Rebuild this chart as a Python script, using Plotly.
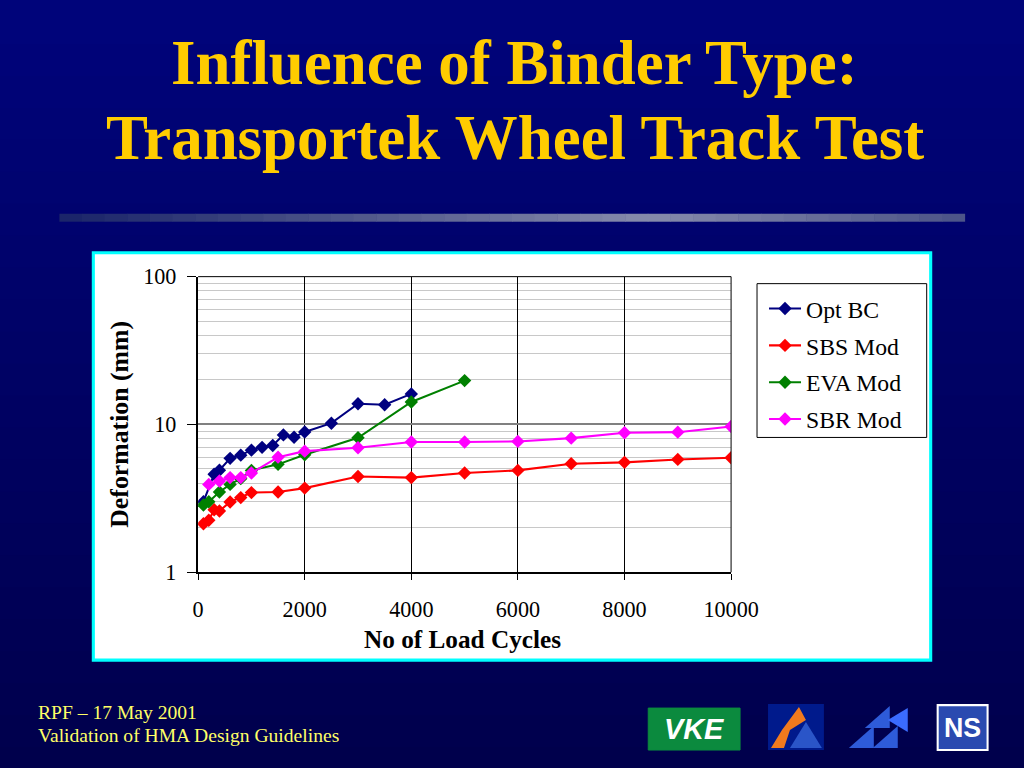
import plotly.graph_objects as go

# ---------------- data ----------------
opt_x = [100, 300, 400, 600, 800, 1000, 1200, 1400, 1600, 1800, 2000, 2500, 3000, 3500, 4000]
opt_y = [3.0, 4.6, 4.9, 5.9, 6.2, 6.7, 7.0, 7.2, 8.5, 8.2, 8.9, 10.2, 13.8, 13.6, 16.1]

sbs_x = [100, 200, 300, 400, 600, 800, 1000, 1500, 2000, 3000, 4000, 5000, 6000, 7000, 8000, 9000, 10000]
sbs_y = [2.13, 2.25, 2.65, 2.6, 2.99, 3.2, 3.46, 3.49, 3.71, 4.45, 4.37, 4.69, 4.89, 5.43, 5.54, 5.8, 5.96]

eva_x = [100, 200, 400, 600, 800, 1000, 1500, 2000, 3000, 4000, 5000]
eva_y = [2.85, 3.0, 3.49, 3.93, 4.3, 4.89, 5.37, 6.24, 8.13, 14.2, 19.8]

sbr_x = [200, 400, 600, 800, 1000, 1500, 2000, 3000, 4000, 5000, 6000, 7000, 8000, 9000, 10000]
sbr_y = [3.93, 4.14, 4.37, 4.37, 4.69, 6.01, 6.6, 6.96, 7.6, 7.6, 7.68, 8.08, 8.79, 8.87, 9.69]

series_names = ["Opt BC", "SBS Mod", "EVA Mod", "SBR Mod"]
series_colors = ["#000080", "#FF0000", "#008000", "#FF00FF"]

x_ticks = [0, 2000, 4000, 6000, 8000, 10000]
x_ticktext = ["0", "2000", "4000", "6000", "8000", "10000"]
y_ticks = [1, 10, 100]
y_ticktext = ["1", "10", "100"]
y_minor = [2, 3, 4, 5, 6, 7, 8, 9, 20, 30, 40, 50, 60, 70, 80, 90]

title_lines = ["Influence of Binder Type:", "Transportek Wheel Track Test"]
footer_lines = ["RPF \u2013 17 May 2001", "Validation of HMA Design Guidelines"]

# ---------------- figure ----------------
S = 1056 / 1024          # size factor of the figure versus the 1024x768 design grid
W, H = 1056, 792
DX, DY = -4.5, -11       # placement correction on the design grid
SERIF = "Liberation Serif, Times New Roman, serif"

def px(x):
    return (x + DX) / 1024

def py(y):
    return 1 - (y + DY) / 768

def sz(v):
    return v * S

fig = go.Figure()
for xs, ys, name, col in zip([opt_x, sbs_x, eva_x, sbr_x], [opt_y, sbs_y, eva_y, sbr_y],
                             series_names, series_colors):
    fig.add_trace(go.Scatter(
        x=xs, y=ys, name=name, mode="lines+markers", legendgroup=name,
        line=dict(color=col, width=sz(2)),
        marker=dict(symbol="diamond", size=sz(10), color=col),
    ))

shapes = []
n = 24
for i in range(n):
    t = i / (n - 1)
    b = int(122 - (122 - 76) * t)
    g2 = int(4 - 4 * t)
    shapes.append(dict(type="rect", xref="paper", yref="paper", layer="below",
                       x0=-0.02, x1=1.02, y0=1 - (i + 1) / n - 0.001 - 0.03 * (i == n - 1),
                       y1=1 - i / n + 0.03 * (i == 0),
                       line=dict(width=0), fillcolor=f"rgb(0,{g2},{b})"))
bx0, bx1 = 58, 965
nb = 40
for i in range(nb):
    t = (i + 0.5) / nb
    k = 1 - abs(t - 0.65) / 0.65
    k = max(0.0, min(1.0, k))
    cr = int(25 + (135 - 25) * k)
    cg = int(35 + (140 - 35) * k)
    cb = int(105 + (172 - 105) * k)
    xa = bx0 + (bx1 - bx0) * i / nb
    xb = bx0 + (bx1 - bx0) * (i + 1) / nb
    shapes.append(dict(type="rect", xref="paper", yref="paper", layer="below",
                       x0=px(xa), x1=px(xb + 0.5), y0=py(221), y1=py(213),
                       line=dict(width=0), fillcolor=f"rgb({cr},{cg},{cb})"))
shapes.append(dict(type="rect", xref="paper", yref="paper", layer="below",
                   x0=px(92), x1=px(931), y0=py(660), y1=py(252),
                   line=dict(color="#00FFFF", width=sz(3)), fillcolor="white"))
shapes.append(dict(type="rect", xref="paper", yref="paper", layer="above",
                   x0=px(757), x1=px(927), y0=py(437), y1=py(283),
                   line=dict(color="black", width=1), fillcolor="rgba(0,0,0,0)"))

# logos (approximate)
shapes.append(dict(type="rect", xref="paper", yref="paper",
                   x0=px(648), x1=px(740), y0=py(750), y1=py(708),
                   line=dict(color="#0B8A3E", width=1), fillcolor="#0B8A3E"))
shapes.append(dict(type="rect", xref="paper", yref="paper",
                   x0=px(768), x1=px(824), y0=py(750), y1=py(704),
                   line=dict(width=0), fillcolor="#001A8C"))
shapes.append(dict(type="path", xref="paper", yref="paper",
                   path=f"M {px(771)},{py(748)} L {px(784)},{py(748)} L {px(790)},{py(730)} L {px(806)},{py(720)} L {px(799)},{py(707)} L {px(782)},{py(730)} Z",
                   line=dict(width=0), fillcolor="#F07A1E"))
shapes.append(dict(type="path", xref="paper", yref="paper",
                   path=f"M {px(790)},{py(748)} L {px(822)},{py(748)} L {px(806)},{py(722)} Z",
                   line=dict(width=0), fillcolor="#2A55C8"))
for (cx, cy) in [(880, 718), (864, 738), (888, 738)]:
    shapes.append(dict(type="path", xref="paper", yref="paper",
                       path=f"M {px(cx-15)},{py(cy+10)} L {px(cx+10)},{py(cy+10)} L {px(cx+10)},{py(cy-12)} Z",
                       line=dict(width=0), fillcolor="#2E5BD9"))
shapes.append(dict(type="path", xref="paper", yref="paper",
                   path=f"M {px(908)},{py(708)} L {px(908)},{py(732)} L {px(888)},{py(720)} Z",
                   line=dict(width=0), fillcolor="#3A6BFF"))
shapes.append(dict(type="rect", xref="paper", yref="paper",
                   x0=px(938), x1=px(988), y0=py(750), y1=py(705),
                   line=dict(color="white", width=sz(2)), fillcolor="#2A4AB0"))

annotations = []
for line, yc in zip(title_lines, [62, 137]):
    annotations.append(dict(text=f"<b>{line}</b>", x=px(514), y=py(yc),
                            xref="paper", yref="paper", showarrow=False,
                            xanchor="center", yanchor="middle",
                            font=dict(family=SERIF, size=sz(61), color="#FFCC00")))
for i, line in enumerate(footer_lines):
    annotations.append(dict(text=line, x=px(35), y=py(712 + 23 * i),
                            xref="paper", yref="paper", showarrow=False,
                            xanchor="left", yanchor="middle",
                            font=dict(family=SERIF, size=sz(19), color="#FFFF66")))
annotations.append(dict(text="<b><i>VKE</i></b>", x=px(694), y=py(729), xref="paper", yref="paper",
                        showarrow=False, xanchor="center", yanchor="middle",
                        font=dict(family="Liberation Sans, Arial", size=sz(28), color="white")))
annotations.append(dict(text="<b>NS</b>", x=px(963), y=py(728), xref="paper", yref="paper",
                        showarrow=False, xanchor="center", yanchor="middle",
                        font=dict(family="Liberation Sans, Arial", size=sz(26), color="white")))
annotations.append(dict(text="<b>No of Load Cycles</b>", x=px(462), y=py(639), xref="paper", yref="paper",
                        showarrow=False, xanchor="center", yanchor="middle",
                        font=dict(family=SERIF, size=sz(24.5), color="black")))
annotations.append(dict(text="<b>Deformation (mm)</b>", x=px(118), y=py(424), xref="paper", yref="paper",
                        showarrow=False, xanchor="center", yanchor="middle", textangle=-90,
                        font=dict(family=SERIF, size=sz(25), color="black")))

fig.update_layout(
    width=W, height=H,
    margin=dict(l=0, r=0, t=0, b=0),
    paper_bgcolor="#000066",
    plot_bgcolor="white",
    showlegend=True,
    legend=dict(x=px(764), y=py(286), xanchor="left", yanchor="top",
                bgcolor="rgba(0,0,0,0)", borderwidth=0,
                font=dict(family=SERIF, size=sz(23), color="black"),
                tracegroupgap=round(sz(3)), itemwidth=32),
    shapes=shapes,
    annotations=annotations,
    xaxis=dict(domain=[px(197), px(731)], range=[0, 10000], tickvals=x_ticks, ticktext=x_ticktext,
               showgrid=True, gridcolor="black", gridwidth=1, zeroline=False,
               showline=True, linecolor="black", linewidth=sz(2),
               ticks="outside", ticklen=sz(6), tickcolor="black", ticklabelstandoff=round(sz(10)),
               tickfont=dict(family=SERIF, size=sz(21.5), color="black"),
               mirror=False, anchor="y"),
    yaxis=dict(domain=[py(572), py(276)], type="log", range=[0, 2], tickvals=y_ticks,
               ticktext=y_ticktext,
               showgrid=True, gridcolor="#808080", gridwidth=sz(2), zeroline=False,
               showline=True, linecolor="black", linewidth=sz(2),
               ticks="outside", ticklen=sz(9), tickcolor="black", ticklabelstandoff=round(sz(6)),
               tickfont=dict(family=SERIF, size=sz(21.5), color="black"),
               minor=dict(tickvals=y_minor, showgrid=True, gridcolor="#C8C8C8", gridwidth=1, ticks=""),
               anchor="x"),
)
fig.add_shape(type="line", xref="paper", yref="paper", x0=px(731), x1=px(731), y0=py(572), y1=py(276),
              line=dict(color="black", width=1))
fig.add_shape(type="line", xref="paper", yref="paper", x0=px(197), x1=px(731), y0=py(276), y1=py(276),
              line=dict(color="black", width=1))

fig.write_html(
    "out.html",
    config={"displayModeBar": False},
    post_script="document.body.style.margin='0';document.body.style.background='#00004e';",
)
